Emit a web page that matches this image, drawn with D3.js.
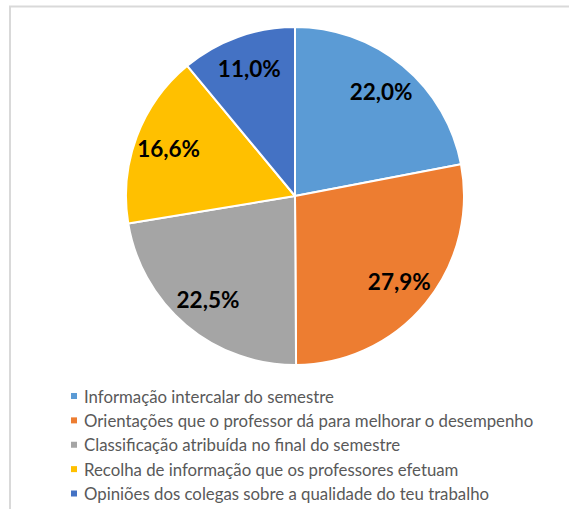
<!DOCTYPE html>
<html>
<head>
<meta charset="utf-8">
<script src="https://cdn.jsdelivr.net/npm/d3@7"></script>
<style>
  html, body { margin: 0; padding: 0; background: #fff; }
  svg { display: block; }
</style>
</head>
<body>
<svg id="chart" width="569" height="509"></svg>
<script>
const categories = [
  "Informação intercalar do semestre",
  "Orientações que o professor dá para melhorar o desempenho",
  "Classificação atribuída no final do semestre",
  "Recolha de informação que os professores efetuam",
  "Opiniões dos colegas sobre a qualidade do teu trabalho"
];
const values = [22.0, 27.9, 22.5, 16.6, 11.0];
const labels = ["22,0%", "27,9%", "22,5%", "16,6%", "11,0%"];
const colors = ["#5B9BD5", "#ED7D31", "#A5A5A5", "#FFC000", "#4472C4"];

const svg = d3.select("#chart");

// chart border
svg.append("rect")
  .attr("x", 10).attr("y", 6.5)
  .attr("width", 600).attr("height", 600)
  .attr("fill", "#fff")
  .attr("stroke", "#d9d9d9")
  .attr("stroke-width", 2);

const cx = 295, cy = 196, r = 169;
const data = categories.map((c, i) => ({ cat: c, value: values[i], label: labels[i], color: colors[i] }));

const pie = d3.pie().sort(null).value(d => d.value);
const arc = d3.arc().innerRadius(0).outerRadius(r);
const labelArc = d3.arc().innerRadius(135).outerRadius(135);

const g = svg.append("g").attr("transform", `translate(${cx},${cy})`);
const arcs = pie(data);

g.selectAll("path.slice")
  .data(arcs)
  .join("path")
  .attr("class", "slice")
  .attr("d", arc)
  .attr("fill", d => d.data.color)
  .attr("stroke", "#fff")
  .attr("stroke-width", 2)
  .attr("stroke-linejoin", "round");

g.selectAll("text.lbl")
  .data(arcs)
  .join("text")
  .attr("class", "lbl")
  .attr("transform", d => `translate(${labelArc.centroid(d)})`)
  .attr("text-anchor", "middle")
  .attr("dominant-baseline", "central")
  .attr("font-family", "Lato, 'Open Sans', sans-serif")
  .attr("font-weight", "bold")
  .attr("font-size", 22.5)
  .attr("fill", "#000")
  .text(d => d.data.label);

// legend
const legendY = d3.scaleLinear().domain([0, categories.length - 1]).range([396, 493.5]);
const leg = svg.append("g");
const rows = leg.selectAll("g.row")
  .data(data)
  .join("g")
  .attr("class", "row")
  .attr("transform", (d, i) => `translate(71,${legendY(i)})`);

rows.append("rect")
  .attr("x", 0).attr("y", -3)
  .attr("width", 6).attr("height", 6)
  .attr("fill", d => d.color);

rows.append("text")
  .attr("x", 13)
  .attr("y", 0)
  .attr("dominant-baseline", "central")
  .attr("font-family", "Lato, 'Open Sans', sans-serif")
  .attr("font-size", 16.8)
  .attr("fill", "#595959")
  .text(d => d.cat);
</script>
</body>
</html>
